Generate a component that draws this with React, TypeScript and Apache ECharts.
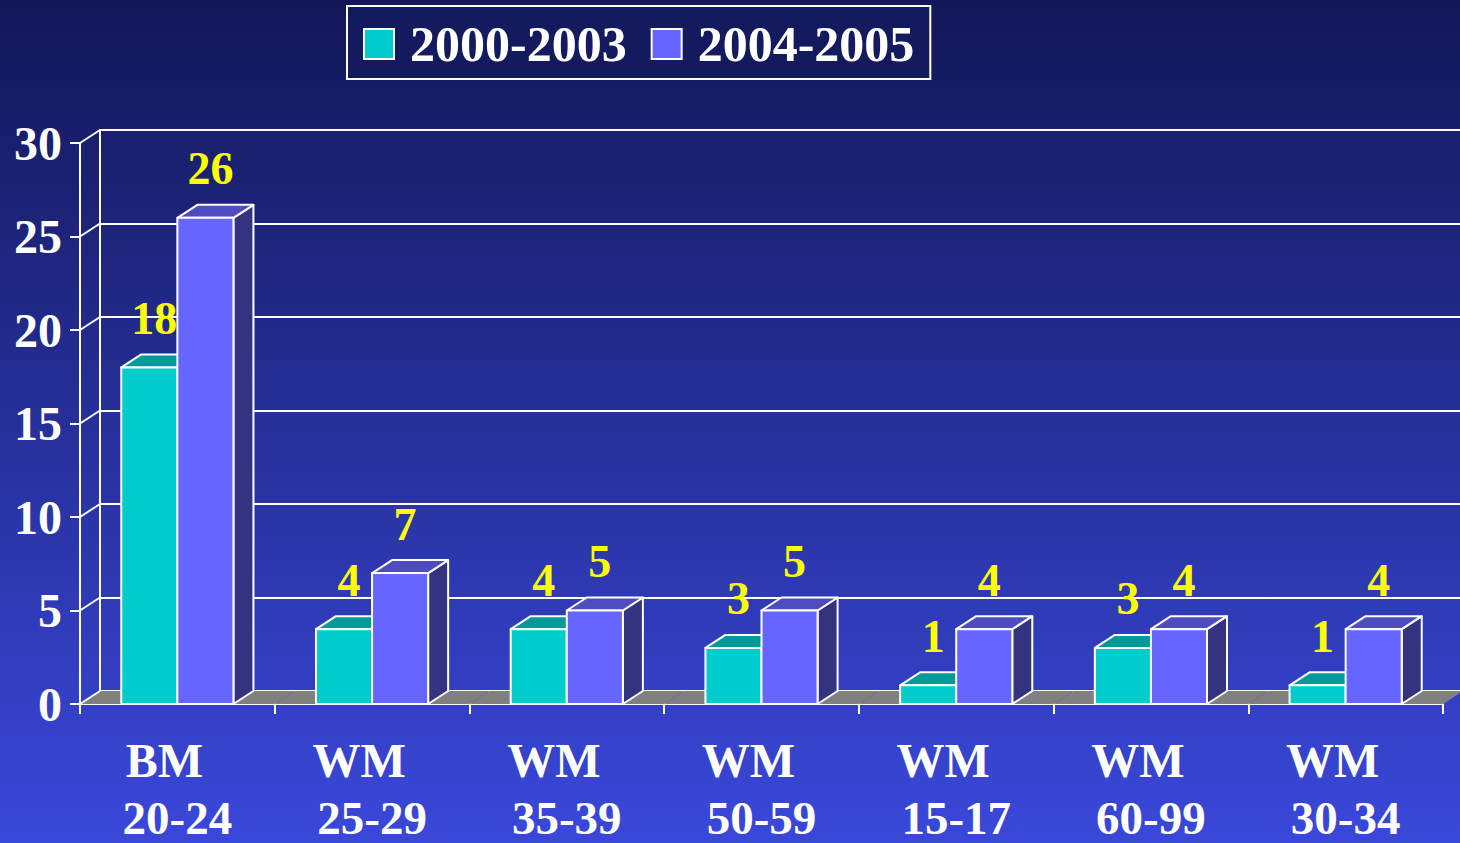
import React, { useEffect, useRef } from "react";
import * as echarts from "echarts";

const groupLabels = ["BM", "WM", "WM", "WM", "WM", "WM", "WM"];
const ageLabels = ["20-24", "25-29", "35-39", "50-59", "15-17", "60-99", "30-34"];
const seriesNames = ["2000-2003", "2004-2005"];
const values2000 = [18, 4, 4, 3, 1, 3, 1];
const values2004 = [26, 7, 5, 5, 4, 4, 4];
const yTicks = [0, 5, 10, 15, 20, 25, 30];

const FONT = '"Liberation Serif", "Times New Roman", serif';
const DX = 20;
const DY = -13;
const BAR_FRAC = 0.288;

const faceColors = [
  { front: "#00cccc", top: "#009999", side: "#006666" },
  { front: "#6666ff", top: "#4d4dc0", side: "#333380" },
];

function makeBarRenderer(idx: number) {
  return (params: any, api: any) => {
    const ci = api.value(0);
    const v = api.value(1);
    const base = api.coord([ci, 0]);
    const topP = api.coord([ci, v]);
    const band = api.size([1, 0])[0];
    const bw = band * BAR_FRAC;
    const x0 = base[0] - bw + idx * bw;
    const x1 = x0 + bw;
    const yb = base[1];
    const yt = topP[1];
    const c = faceColors[idx];
    const stroke = { stroke: "#ffffff", lineWidth: 2, lineJoin: "round" };
    return {
      type: "group",
      children: [
        {
          type: "polygon",
          shape: { points: [[x1, yb], [x1, yt], [x1 + DX, yt + DY], [x1 + DX, yb + DY]] },
          style: { fill: c.side, ...stroke },
        },
        {
          type: "polygon",
          shape: { points: [[x0, yt], [x1, yt], [x1 + DX, yt + DY], [x0 + DX, yt + DY]] },
          style: { fill: c.top, ...stroke },
        },
        {
          type: "rect",
          shape: { x: x0, y: yt, width: bw, height: yb - yt },
          style: { fill: c.front, ...stroke },
        },
        {
          type: "text",
          x: x0 + bw / 2 + 5,
          y: yt - 49,
          z2: 100,
          style: {
            text: String(v),
            fill: "#ffff00",
            fontSize: 46,
            fontWeight: "bold",
            fontFamily: FONT,
            align: "center",
            verticalAlign: "middle",
          },
        },
      ],
    };
  };
}

export default function App() {
  const ref = useRef<HTMLDivElement>(null);
  useEffect(() => {
    if (!ref.current) return;
    const chart = echarts.init(ref.current, undefined, { renderer: "svg" });
    const catIdx = ageLabels.map((_, i) => i);
    const option: any = {
      animation: false,
      backgroundColor: new echarts.graphic.LinearGradient(0, 0, 0, 1, [
        { offset: 0, color: "#121757" },
        { offset: 1, color: "#3a48da" },
      ]),
      legend: {
        data: seriesNames,
        left: 347,
        top: 6,
        padding: [13, 16, 10, 16],
        itemGap: 24,
        itemWidth: 30,
        itemHeight: 30,
        icon: "rect",
        borderColor: "#ffffff",
        borderWidth: 2,
        backgroundColor: "#141a5e",
        itemStyle: { borderColor: "#ffffff", borderWidth: 2 },
        textStyle: {
          color: "#ffffff",
          fontSize: 50,
          fontWeight: "bold",
          fontFamily: FONT,
          padding: [0, 0, 0, 11],
        },
      },
      grid: [
        { left: 80, right: 17, top: 143, bottom: 139 },
        { left: 100, right: -3, top: 130, bottom: 152 },
      ],
      xAxis: [
        {
          type: "category",
          gridIndex: 0,
          data: ageLabels,
          axisLine: { lineStyle: { color: "#ffffff", width: 2 } },
          axisTick: { show: true, length: 10, interval: 0, lineStyle: { color: "#ffffff", width: 2 } },
          axisLabel: {
            interval: 0,
            margin: 16,
            formatter: (val: string, i: number) => `{a|${groupLabels[i]}}\n{b|${ageLabels[i]}}`,
            rich: {
              a: { fontSize: 48, fontWeight: "bold", fontFamily: FONT, color: "#ffffff", lineHeight: 80, padding: [0, 26, 0, 0] },
              b: { fontSize: 47, fontWeight: "bold", fontFamily: FONT, color: "#ffffff", lineHeight: 36 },
            },
          },
          splitLine: { show: false },
        },
        {
          type: "category",
          gridIndex: 1,
          data: ageLabels,
          show: false,
        },
      ],
      yAxis: [
        {
          type: "value",
          gridIndex: 0,
          min: 0,
          max: 30,
          interval: 5,
          axisLine: { show: true, lineStyle: { color: "#ffffff", width: 2 } },
          axisTick: { show: true, length: 10, lineStyle: { color: "#ffffff", width: 2 } },
          axisLabel: { margin: 18, color: "#ffffff", fontSize: 48, fontWeight: "bold", fontFamily: FONT },
          splitLine: { show: false },
        },
        {
          type: "value",
          gridIndex: 1,
          min: 0,
          max: 30,
          interval: 5,
          axisLine: { show: true, lineStyle: { color: "#ffffff", width: 2 } },
          axisTick: { show: false },
          axisLabel: { show: false },
          splitLine: { show: true, lineStyle: { color: "#ffffff", width: 2 } },
        },
      ],
      series: [
        {
          type: "custom",
          name: "floor",
          xAxisIndex: 0,
          yAxisIndex: 0,
          silent: true,
          data: catIdx.map((i) => [i, 0]),
          renderItem: (params: any, api: any) => {
            const p = api.coord([api.value(0), 0]);
            const band = api.size([1, 0])[0];
            const l = p[0] - band / 2;
            const r = l + band;
            const y = p[1];
            return {
              type: "polygon",
              shape: { points: [[l, y], [r, y], [r + DX, y + DY], [l + DX, y + DY]] },
              style: { fill: "#808080" },
            };
          },
        },
        {
          type: "custom",
          name: "wall",
          xAxisIndex: 0,
          yAxisIndex: 0,
          silent: true,
          data: yTicks.map((t) => [0, t]),
          renderItem: (params: any, api: any) => {
            const p = api.coord([0, api.value(1)]);
            const band = api.size([1, 0])[0];
            const l = p[0] - band / 2;
            return {
              type: "line",
              shape: { x1: l, y1: p[1], x2: l + DX, y2: p[1] + DY },
              style: { stroke: "#ffffff", lineWidth: 2 },
            };
          },
        },
        {
          type: "custom",
          name: seriesNames[0],
          xAxisIndex: 0,
          yAxisIndex: 0,
          itemStyle: { color: faceColors[0].front, borderColor: "#ffffff", borderWidth: 2 },
          data: values2000.map((v, i) => [i, v]),
          renderItem: makeBarRenderer(0),
        },
        {
          type: "custom",
          name: seriesNames[1],
          xAxisIndex: 0,
          yAxisIndex: 0,
          itemStyle: { color: faceColors[1].front, borderColor: "#ffffff", borderWidth: 2 },
          data: values2004.map((v, i) => [i, v]),
          renderItem: makeBarRenderer(1),
        },
      ],
    };
    chart.setOption(option);
    return () => chart.dispose();
  }, []);
  return (
    <div
      ref={ref}
      style={{ position: "absolute", left: 0, top: 0, width: 1460, height: 843 }}
    />
  );
}
